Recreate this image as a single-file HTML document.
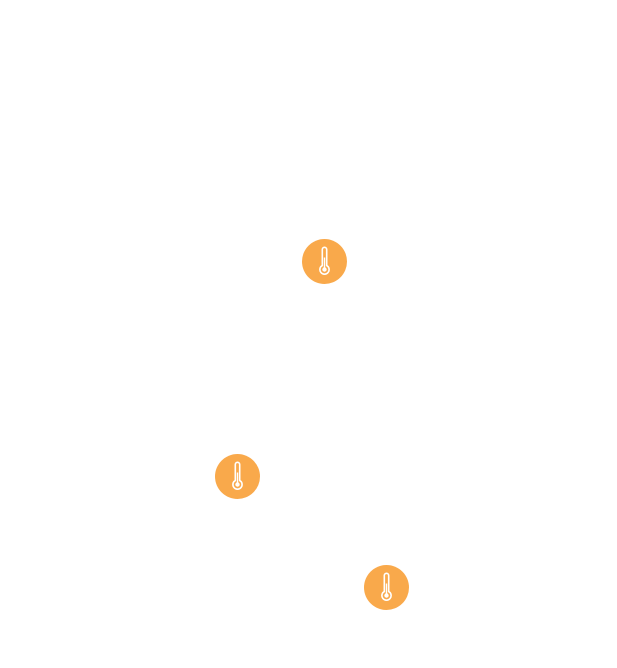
<!DOCTYPE html>
<html><head><style>
html,body{margin:0;padding:0;background:#fff;width:617px;height:668px;overflow:hidden}
</style></head><body>
<svg width="617" height="668" xmlns="http://www.w3.org/2000/svg">
<defs>
<g id="t">
<circle r="22.5" fill="#f9a94b"/>
<path d="M-2.2,4 V-12 a2.2,2.2 0 0 1 4.4,0 V4 a4.6,4.6 0 1 1 -4.4,0 Z" fill="none" stroke="#fff" stroke-width="1.6"/>
<circle cy="8" r="2.2" fill="#fff"/>
<line x1="0" y1="8" x2="0" y2="-4" stroke="#fff" stroke-width="1.4"/>
</g>
</defs>
<use href="#t" x="324.5" y="261.5"/>
<use href="#t" x="237.5" y="476.5"/>
<use href="#t" x="386.5" y="587.5"/>
</svg>
</body></html>
